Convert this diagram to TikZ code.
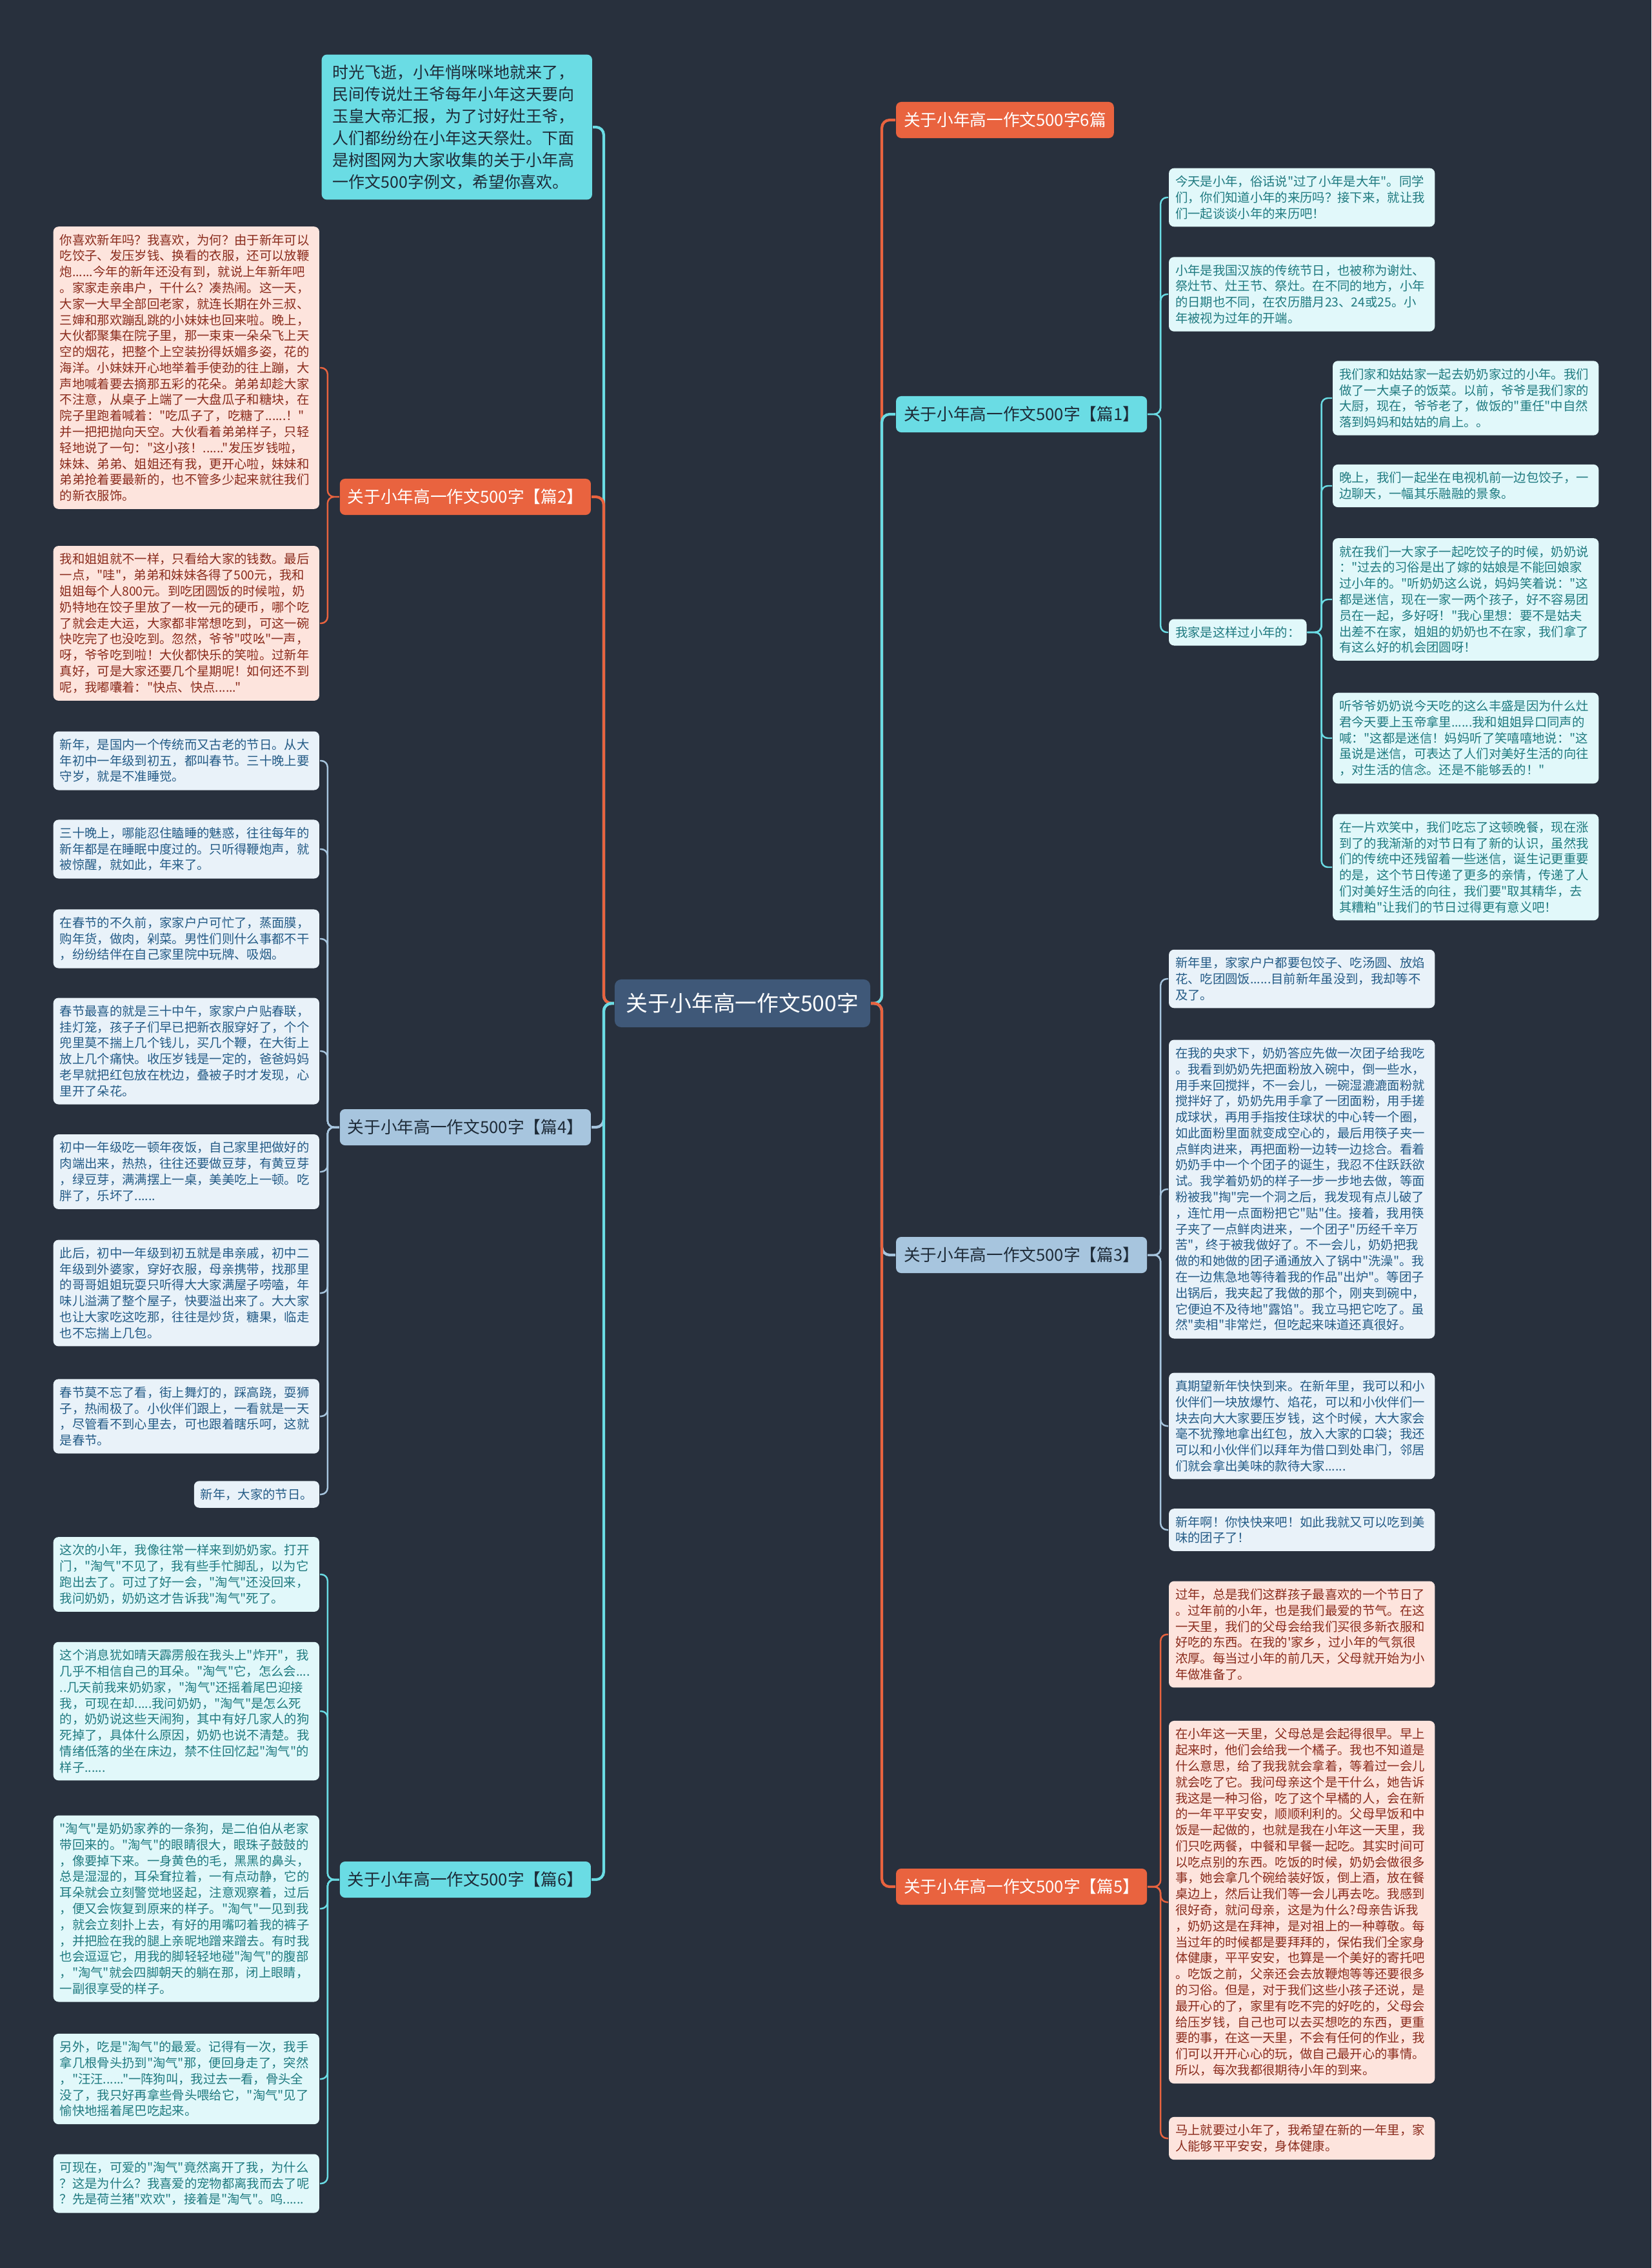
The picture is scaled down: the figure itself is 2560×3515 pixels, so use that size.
\documentclass[tikz,border=0pt]{standalone}
\usepackage{fontspec}
\newfontfamily\cjk{Noto Sans CJK SC}
\definecolor{beijing}{HTML}{28303D}
\definecolor{zxlan}{HTML}{3F5878}
\definecolor{cheng}{HTML}{E9633F}
\definecolor{qing}{HTML}{6ADCE4}
\definecolor{lan}{HTML}{A7C5DE}
\definecolor{shen}{HTML}{1E2B38}
\definecolor{fencheng}{HTML}{FDE4DD}
\definecolor{zicheng}{HTML}{8A2B1C}
\definecolor{fenqing}{HTML}{E1F8FA}
\definecolor{ziqing}{HTML}{1F7A80}
\definecolor{fenlan}{HTML}{E9F2F9}
\definecolor{zilan}{HTML}{245B86}
\begin{document}
\begin{tikzpicture}[x=0.01cm,y=-0.01cm,line width=0.6pt,
  zhongxin/.style={fill=zxlan,text=white,rounded corners=0.1cm,minimum height=0.74cm,inner xsep=0.18cm,font=\cjk\fontsize{9.6pt}{11pt}\selectfont},
  fenzhi/.style={rounded corners=0.08cm,minimum height=0.56cm,inner xsep=0.12cm,font=\cjk\fontsize{7.3pt}{9pt}\selectfont},
  fzcheng/.style={fenzhi,fill=cheng,text=white},
  fzqing/.style={fenzhi,fill=qing,text=shen},
  fzlan/.style={fenzhi,fill=lan,text=shen},
  xiao/.style={rounded corners=0.08cm,align=left,inner xsep=0.1cm,inner ysep=0.115cm,font=\cjk\fontsize{5.5pt}{7.05pt}\selectfont},
  wen/.style={xiao,text width=3.92cm},
  wcheng/.style={wen,fill=fencheng,text=zicheng},
  wqing/.style={wen,fill=fenqing,text=ziqing},
  wlan/.style={wen,fill=fenlan,text=zilan},
  zhuxian/.style={line width=1.2pt,rounded corners=0.12cm},
  xian/.style={line width=0.7pt,rounded corners=0.1cm}]
  \useasboundingbox (0,0) rectangle (2560,3515);
  \fill[beijing] (0,0) rectangle (2560,3515);

  % 中心主题
  \node[zhongxin] (zx) at (1151,1555) {关于小年高一作文500字};

  % 引言
  \node[anchor=east,fill=qing,text=shen,rounded corners=0.08cm,text width=3.85cm,align=left,
    inner xsep=0.17cm,inner ysep=0.155cm,font=\cjk\fontsize{7.1pt}{9.67pt}\selectfont] (yin) at (919,197)
    {时光飞逝，小年悄咪咪地就来了，\\民间传说灶王爷每年小年这天要向\\玉皇大帝汇报，为了讨好灶王爷，\\人们都纷纷在小年这天祭灶。下面\\是树图网为大家收集的关于小年高\\一作文500字例文，希望你喜欢。};

  % 一级分支
  \node[fzcheng,anchor=west] (h0) at (1388,186) {关于小年高一作文500字6篇};
  \node[fzqing,anchor=west] (h1) at (1388,642) {关于小年高一作文500字【篇1】};
  \node[fzlan,anchor=west] (h3) at (1388,1945) {关于小年高一作文500字【篇3】};
  \node[fzcheng,anchor=west] (h5) at (1388,2924) {关于小年高一作文500字【篇5】};
  \node[fzcheng,anchor=east] (h2) at (917,770) {关于小年高一作文500字【篇2】};
  \node[fzlan,anchor=east] (h4) at (917,1747) {关于小年高一作文500字【篇4】};
  \node[fzqing,anchor=east] (h6) at (917,2913) {关于小年高一作文500字【篇6】};

  % 篇2
  \node[wcheng,anchor=east] (a1) at (496,570) {你喜欢新年吗？我喜欢，为何？由于新年可以\\吃饺子、发压岁钱、换看的衣服，还可以放鞭\\炮......今年的新年还没有到，就说上年新年吧\\。家家走亲串户，干什么？凑热闹。这一天，\\大家一大早全部回老家，就连长期在外三叔、\\三婶和那欢蹦乱跳的小妹妹也回来啦。晚上，\\大伙都聚集在院子里，那一束束一朵朵飞上天\\空的烟花，把整个上空装扮得妖媚多姿，花的\\海洋。小妹妹开心地举着手使劲的往上蹦，大\\声地喊着要去摘那五彩的花朵。弟弟却趁大家\\不注意，从桌子上端了一大盘瓜子和糖块，在\\院子里跑着喊着："吃瓜子了，吃糖了......！"\\并一把把抛向天空。大伙看着弟弟样子，只轻\\轻地说了一句："这小孩！......"发压岁钱啦，\\妹妹、弟弟、姐姐还有我，更开心啦，妹妹和\\弟弟抢着要最新的，也不管多少起来就往我们\\的新衣服饰。};
  \node[wcheng,anchor=east] (a2) at (496,966) {我和姐姐就不一样，只看给大家的钱数。最后\\一点，"哇"，弟弟和妹妹各得了500元，我和\\姐姐每个人800元。到吃团圆饭的时候啦，奶\\奶特地在饺子里放了一枚一元的硬币，哪个吃\\了就会走大运，大家都非常想吃到，可这一碗\\快吃完了也没吃到。忽然，爷爷"哎吆"一声，\\呀，爷爷吃到啦！大伙都快乐的笑啦。过新年\\真好，可是大家还要几个星期呢！如何还不到\\呢，我嘟囔着："快点、快点......"};

  % 篇4
  \node[wlan,anchor=east] (c1) at (496,1179) {新年，是国内一个传统而又古老的节日。从大\\年初中一年级到初五，都叫春节。三十晚上要\\守岁，就是不准睡觉。};
  \node[wlan,anchor=east] (c2) at (496,1316) {三十晚上，哪能忍住瞌睡的魅惑，往往每年的\\新年都是在睡眠中度过的。只听得鞭炮声，就\\被惊醒，就如此，年来了。};
  \node[wlan,anchor=east] (c3) at (496,1455) {在春节的不久前，家家户户可忙了，蒸面膜，\\购年货，做肉，剁菜。男性们则什么事都不干\\，纷纷结伴在自己家里院中玩牌、吸烟。};
  \node[wlan,anchor=east] (c4) at (496,1629) {春节最喜的就是三十中午，家家户户贴春联，\\挂灯笼，孩子子们早已把新衣服穿好了，个个\\兜里莫不揣上几个钱儿，买几个鞭，在大街上\\放上几个痛快。收压岁钱是一定的，爸爸妈妈\\老早就把红包放在枕边，叠被子时才发现，心\\里开了朵花。};
  \node[wlan,anchor=east] (c5) at (496,1816) {初中一年级吃一顿年夜饭，自己家里把做好的\\肉端出来，热热，往往还要做豆芽，有黄豆芽\\，绿豆芽，满满摆上一桌，美美吃上一顿。吃\\胖了，乐坏了......};
  \node[wlan,anchor=east] (c6) at (496,2004) {此后，初中一年级到初五就是串亲戚，初中二\\年级到外婆家，穿好衣服，母亲携带，找那里\\的哥哥姐姐玩耍只听得大大家满屋子唠嗑，年\\味儿溢满了整个屋子，快要溢出来了。大大家\\也让大家吃这吃那，往往是炒货，糖果，临走\\也不忘揣上几包。};
  \node[wlan,anchor=east] (c7) at (496,2195) {春节莫不忘了看，街上舞灯的，踩高跷，耍狮\\子，热闹极了。小伙伴们跟上，一看就是一天\\，尽管看不到心里去，可也跟着瞎乐呵，这就\\是春节。};
  \node[xiao,fill=fenlan,text=zilan,anchor=east] (c8) at (496,2316) {新年，大家的节日。};

  % 篇6
  \node[wqing,anchor=east] (d1) at (496,2440) {这次的小年，我像往常一样来到奶奶家。打开\\门，"淘气"不见了，我有些手忙脚乱，以为它\\跑出去了。可过了好一会，"淘气"还没回来，\\我问奶奶，奶奶这才告诉我"淘气"死了。};
  \node[wqing,anchor=east] (d2) at (496,2652) {这个消息犹如晴天霹雳般在我头上"炸开"，我\\几乎不相信自己的耳朵。"淘气"它，怎么会....\\..几天前我来奶奶家，"淘气"还摇着尾巴迎接\\我，可现在却.....我问奶奶，"淘气"是怎么死\\的，奶奶说这些天闹狗，其中有好几家人的狗\\死掉了，具体什么原因，奶奶也说不清楚。我\\情绪低落的坐在床边，禁不住回忆起"淘气"的\\样子......};
  \node[wqing,anchor=east] (d3) at (496,2958) {"淘气"是奶奶家养的一条狗，是二伯伯从老家\\带回来的。"淘气"的眼睛很大，眼珠子鼓鼓的\\，像要掉下来。一身黄色的毛，黑黑的鼻头，\\总是湿湿的，耳朵耷拉着，一有点动静，它的\\耳朵就会立刻警觉地竖起，注意观察着，过后\\，便又会恢复到原来的样子。"淘气"一见到我\\，就会立刻扑上去，有好的用嘴叼着我的裤子\\，并把脸在我的腿上亲昵地蹭来蹭去。有时我\\也会逗逗它，用我的脚轻轻地碰"淘气"的腹部\\，"淘气"就会四脚朝天的躺在那，闭上眼睛，\\一副很享受的样子。};
  \node[wqing,anchor=east] (d4) at (496,3222) {另外，吃是"淘气"的最爱。记得有一次，我手\\拿几根骨头扔到"淘气"那，便回身走了，突然\\，"汪汪......"一阵狗叫，我过去一看，骨头全\\没了，我只好再拿些骨头喂给它，"淘气"见了\\愉快地摇着尾巴吃起来。};
  \node[wqing,anchor=east] (d5) at (496,3384) {可现在，可爱的"淘气"竟然离开了我，为什么\\？这是为什么？我喜爱的宠物都离我而去了呢\\？先是荷兰猪"欢欢"，接着是"淘气"。呜......};

  % 篇1
  \node[wqing,anchor=west] (r1) at (1811,306) {今天是小年，俗话说"过了小年是大年"。同学\\们，你们知道小年的来历吗？接下来，就让我\\们一起谈谈小年的来历吧！};
  \node[wqing,anchor=west] (r2) at (1811,456) {小年是我国汉族的传统节日，也被称为谢灶、\\祭灶节、灶王节、祭灶。在不同的地方，小年\\的日期也不同，在农历腊月23、24或25。小\\年被视为过年的开端。};
  \node[xiao,fill=fenqing,text=ziqing,anchor=west] (lbl) at (1811,980) {我家是这样过小年的：};
  \node[wqing,anchor=west] (s1) at (2065,617) {我们家和姑姑家一起去奶奶家过的小年。我们\\做了一大桌子的饭菜。以前，爷爷是我们家的\\大厨，现在，爷爷老了，做饭的"重任"中自然\\落到妈妈和姑姑的肩上。。};
  \node[wqing,anchor=west] (s2) at (2065,753) {晚上，我们一起坐在电视机前一边包饺子，一\\边聊天，一幅其乐融融的景象。};
  \node[wqing,anchor=west] (s3) at (2065,929) {就在我们一大家子一起吃饺子的时候，奶奶说\\："过去的习俗是出了嫁的姑娘是不能回娘家\\过小年的。"听奶奶这么说，妈妈笑着说："这\\都是迷信，现在一家一两个孩子，好不容易团\\员在一起，多好呀！"我心里想：要不是姑夫\\出差不在家，姐姐的奶奶也不在家，我们拿了\\有这么好的机会团圆呀！};
  \node[wqing,anchor=west] (s4) at (2065,1144) {听爷爷奶奶说今天吃的这么丰盛是因为什么灶\\君今天要上玉帝拿里......我和姐姐异口同声的\\喊："这都是迷信！妈妈听了笑嘻嘻地说："这\\虽说是迷信，可表达了人们对美好生活的向往\\，对生活的信念。还是不能够丢的！"};
  \node[wqing,anchor=west] (s5) at (2065,1344) {在一片欢笑中，我们吃忘了这顿晚餐，现在涨\\到了的我渐渐的对节日有了新的认识，虽然我\\们的传统中还残留着一些迷信，诞生记更重要\\的是，这个节日传递了更多的亲情，传递了人\\们对美好生活的向往，我们要"取其精华，去\\其糟粕"让我们的节日过得更有意义吧！};

  % 篇3
  \node[wlan,anchor=west] (t1) at (1811,1517) {新年里，家家户户都要包饺子、吃汤圆、放焰\\花、吃团圆饭......目前新年虽没到，我却等不\\及了。};
  \node[wlan,anchor=west] (t2) at (1811,1843) {在我的央求下，奶奶答应先做一次团子给我吃\\。我看到奶奶先把面粉放入碗中，倒一些水，\\用手来回搅拌，不一会儿，一碗湿漉漉面粉就\\搅拌好了，奶奶先用手拿了一团面粉，用手搓\\成球状，再用手指按住球状的中心转一个圈，\\如此面粉里面就变成空心的，最后用筷子夹一\\点鲜肉进来，再把面粉一边转一边捻合。看着\\奶奶手中一个个团子的诞生，我忍不住跃跃欲\\试。我学着奶奶的样子一步一步地去做，等面\\粉被我"掏"完一个洞之后，我发现有点儿破了\\，连忙用一点面粉把它"贴"住。接着，我用筷\\子夹了一点鲜肉进来，一个团子"历经千辛万\\苦"，终于被我做好了。不一会儿，奶奶把我\\做的和她做的团子通通放入了锅中"洗澡"。我\\在一边焦急地等待着我的作品"出炉"。等团子\\出锅后，我夹起了我做的那个，刚夹到碗中，\\它便迫不及待地"露馅"。我立马把它吃了。虽\\然"卖相"非常烂，但吃起来味道还真很好。};
  \node[wlan,anchor=west] (t3) at (1811,2210) {真期望新年快快到来。在新年里，我可以和小\\伙伴们一块放爆竹、焰花，可以和小伙伴们一\\块去向大大家要压岁钱，这个时候，大大家会\\毫不犹豫地拿出红包，放入大家的口袋；我还\\可以和小伙伴们以拜年为借口到处串门，邻居\\们就会拿出美味的款待大家......};
  \node[wlan,anchor=west] (t4) at (1811,2371) {新年啊！你快快来吧！如此我就又可以吃到美\\味的团子了！};

  % 篇5
  \node[wcheng,anchor=west] (u1) at (1811,2533) {过年，总是我们这群孩子最喜欢的一个节日了\\。过年前的小年，也是我们最爱的节气。在这\\一天里，我们的父母会给我们买很多新衣服和\\好吃的东西。在我的'家乡，过小年的气氛很\\浓厚。每当过小年的前几天，父母就开始为小\\年做准备了。};
  \node[wcheng,anchor=west] (u2) at (1811,2948) {在小年这一天里，父母总是会起得很早。早上\\起来时，他们会给我一个橘子。我也不知道是\\什么意思，给了我我就会拿着，等着过一会儿\\就会吃了它。我问母亲这个是干什么，她告诉\\我这是一种习俗，吃了这个早橘的人，会在新\\的一年平平安安，顺顺利利的。父母早饭和中\\饭是一起做的，也就是我在小年这一天里，我\\们只吃两餐，中餐和早餐一起吃。其实时间可\\以吃点别的东西。吃饭的时候，奶奶会做很多\\事，她会拿几个碗给装好饭，倒上酒，放在餐\\桌边上，然后让我们等一会儿再去吃。我感到\\很好奇，就问母亲，这是为什么?母亲告诉我\\，奶奶这是在拜神，是对祖上的一种尊敬。每\\当过年的时候都是要拜拜的，保佑我们全家身\\体健康，平平安安，也算是一个美好的寄托吧\\。吃饭之前，父亲还会去放鞭炮等等还要很多\\的习俗。但是，对于我们这些小孩子还说，是\\最开心的了，家里有吃不完的好吃的，父母会\\给压岁钱，自己也可以去买想吃的东西，更重\\要的事，在这一天里，不会有任何的作业，我\\们可以开开心心的玩，做自己最开心的事情。\\所以，每次我都很期待小年的到来。};
  \node[wcheng,anchor=west] (u3) at (1811,3314) {马上就要过小年了，我希望在新的一年里，家\\人能够平平安安，身体健康。};

  % 中心到一级分支
  \draw[zhuxian,cheng] (zx.east) -- ++(17,0) |- (h0.west);
  \draw[zhuxian,qing] (zx.east) -- ++(17,0) |- (h1.west);
  \draw[zhuxian,lan] (zx.east) -- ++(17,0) |- (h3.west);
  \draw[zhuxian,cheng] (zx.east) -- ++(17,0) |- (h5.west);
  \draw[zhuxian,qing] (zx.west) -- ++(-16,0) |- (yin.east);
  \draw[zhuxian,cheng] (zx.west) -- ++(-16,0) |- (h2.east);
  \draw[zhuxian,lan] (zx.west) -- ++(-16,0) |- (h4.east);
  \draw[zhuxian,qing] (zx.west) -- ++(-16,0) |- (h6.east);

  % 篇1 连线
  \draw[xian,qing] (h1.east) -- ++(20,0) |- (r1.west);
  \draw[xian,qing] (h1.east) -- ++(20,0) |- (r2.west);
  \draw[xian,qing] (h1.east) -- ++(20,0) |- (lbl.west);
  \draw[xian,qing] (lbl.east) -- ++(22,0) |- (s1.west);
  \draw[xian,qing] (lbl.east) -- ++(22,0) |- (s2.west);
  \draw[xian,qing] (lbl.east) -- ++(22,0) |- (s3.west);
  \draw[xian,qing] (lbl.east) -- ++(22,0) |- (s4.west);
  \draw[xian,qing] (lbl.east) -- ++(22,0) |- (s5.west);

  % 篇3 连线
  \draw[xian,lan] (h3.east) -- ++(20,0) |- (t1.west);
  \draw[xian,lan] (h3.east) -- ++(20,0) |- (t2.west);
  \draw[xian,lan] (h3.east) -- ++(20,0) |- (t3.west);
  \draw[xian,lan] (h3.east) -- ++(20,0) |- (t4.west);

  % 篇5 连线
  \draw[xian,cheng] (h5.east) -- ++(20,0) |- (u1.west);
  \draw[xian,cheng] (h5.east) -- ++(20,0) |- (u2.west);
  \draw[xian,cheng] (h5.east) -- ++(20,0) |- (u3.west);

  % 篇2 连线
  \draw[xian,cheng] (h2.west) -- ++(-18,0) |- (a1.east);
  \draw[xian,cheng] (h2.west) -- ++(-18,0) |- (a2.east);

  % 篇4 连线
  \draw[xian,lan] (h4.west) -- ++(-18,0) |- (c1.east);
  \draw[xian,lan] (h4.west) -- ++(-18,0) |- (c2.east);
  \draw[xian,lan] (h4.west) -- ++(-18,0) |- (c3.east);
  \draw[xian,lan] (h4.west) -- ++(-18,0) |- (c4.east);
  \draw[xian,lan] (h4.west) -- ++(-18,0) |- (c5.east);
  \draw[xian,lan] (h4.west) -- ++(-18,0) |- (c6.east);
  \draw[xian,lan] (h4.west) -- ++(-18,0) |- (c7.east);
  \draw[xian,lan] (h4.west) -- ++(-18,0) |- (c8.east);

  % 篇6 连线
  \draw[xian,qing] (h6.west) -- ++(-18,0) |- (d1.east);
  \draw[xian,qing] (h6.west) -- ++(-18,0) |- (d2.east);
  \draw[xian,qing] (h6.west) -- ++(-18,0) |- (d3.east);
  \draw[xian,qing] (h6.west) -- ++(-18,0) |- (d4.east);
  \draw[xian,qing] (h6.west) -- ++(-18,0) |- (d5.east);
\end{tikzpicture}
\end{document}
